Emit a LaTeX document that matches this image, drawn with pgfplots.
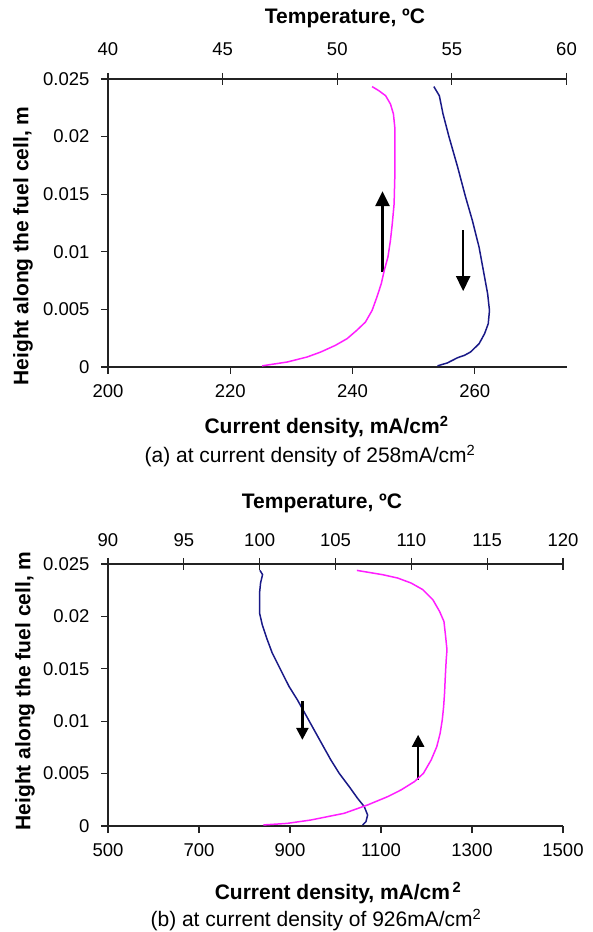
\documentclass[border=0pt]{standalone}
\usepackage{fontspec}
\setmainfont{Liberation Sans}
\usepackage{pgfplots}
\pgfplotsset{compat=1.18}
\usetikzlibrary{arrows.meta}
\definecolor{pinkc}{RGB}{255,30,255}
\definecolor{bluec}{RGB}{25,25,135}
\definecolor{axc}{RGB}{35,35,35}

\tikzset{
  arr/.style={black, line width=2.6pt, -{Triangle[width=14pt,length=15pt]}},
  arrs/.style={black, line width=2.4pt, -{Triangle[width=12pt,length=12pt]}}
}
\newcommand{\lblfont}{\fontsize{21}{25}\selectfont\bfseries}
\newcommand{\tkfont}{\fontsize{18.5}{22}\selectfont}
\pgfplotsset{
  base/.style={scale only axis, clip=false, anchor=south west,
    scaled x ticks=false, scaled y ticks=false,
    axis line style={axc, line width=1.2pt, -},
    tick style={axc, line width=1.2pt},
    ymin=0, ymax=0.025},
  botax/.style={base, axis x line*=bottom, axis y line*=left,
    xtick pos=bottom, ytick pos=left, xticklabel pos=bottom, yticklabel pos=left,
    tick align=outside, major tick length=7pt,
    ytick={0,0.005,0.01,0.015,0.02,0.025},
    yticklabels={0,0.005,0.01,0.015,0.02,0.025},
    xticklabel style={font=\tkfont, text=black, anchor=center, yshift=-17pt},
    yticklabel style={font=\tkfont, text=black, anchor=east, xshift=-8pt}},
  topax/.style={base, axis x line*=top, axis y line=none,
    xtick pos=top, xticklabel pos=top,
    ytick=\empty, tick align=center, major tick length=12pt,
    xticklabel style={font=\tkfont, text=black, anchor=center, yshift=24pt}},
  bl/.style={color=bluec, line width=1.5pt, no marks},
  pk/.style={color=pinkc, line width=1.5pt, no marks}
}

\begin{document}
\begin{tikzpicture}
\useasboundingbox (0,0) rectangle (592pt,932pt);

% ---------------- panel (a) ----------------
\begin{axis}[botax, at={(108pt,565pt)}, width=458.5pt, height=288pt,
  xmin=200, xmax=275, xtick={200,220,240,260}, xticklabels={200,220,240,260},
  xlabel={Current density, mA/cm\textsuperscript{2}},
  xlabel style={font=\lblfont, at={(axis description cs:0.4766,-0.2014)}, anchor=center, yshift=-2pt},
  ylabel={Height along the fuel cell, m},
  ylabel style={font=\lblfont, at={(axis description cs:-0.1854,0.42)}, anchor=center}]
\addplot[bl] coordinates {
(253.9,0.0001) (255.5,0.00035) (257.2,0.00081) (258.3,0.00101) (259.3,0.00130)
(260.7,0.00202) (261.6,0.00289) (262.2,0.00376) (262.4,0.00491) (262.1,0.00636)
(261.5,0.00809) (260.7,0.01040) (259.6,0.01272) (258.5,0.01474) (257.2,0.01734)
(255.8,0.01994) (254.8,0.02197) (254.2,0.02355) (253.3,0.02434)};
\draw[arr] (axis cs:244.9,0.00824) -- (axis cs:244.9,0.01526);
\draw[arr] (axis cs:258.1,0.01185) -- (axis cs:258.1,0.00659);
\node[font=\fontsize{21}{25}\selectfont, yshift=-3pt] at (axis description cs:0.4406,-0.2986)
  {(a) at current density of 258mA/cm\textsuperscript{2}};
\end{axis}
\begin{axis}[topax, at={(108pt,565pt)}, width=458.5pt, height=288pt,
  xmin=40, xmax=60, xtick={40,45,50,55,60}, xticklabels={40,45,50,55,60},
  xlabel={Temperature, ºC},
  xlabel style={font=\lblfont, at={(axis description cs:0.5169,1.2118)}, anchor=center}]
\addplot[pk] coordinates {
(46.72,0.0001) (47.81,0.00043) (48.69,0.00087) (49.28,0.0013) (49.92,0.00188)
(50.43,0.00246) (50.85,0.00318) (51.23,0.0039) (51.52,0.00491) (51.73,0.00607)
(51.92,0.00723) (52.05,0.00838) (52.21,0.00954) (52.32,0.01098) (52.40,0.01243)
(52.48,0.01416) (52.51,0.01647) (52.51,0.0185) (52.51,0.02081) (52.45,0.02197)
(52.32,0.02283) (52.11,0.02355) (51.81,0.02399) (51.52,0.02434)};
\end{axis}

% ---------------- panel (b) ----------------
\begin{axis}[botax, at={(108pt,106pt)}, width=455pt, height=262pt,
  xmin=500, xmax=1500, xtick={500,700,900,1100,1300,1500},
  xticklabels={500,700,900,1100,1300,1500},
  xlabel={Current density, mA/cm\textsuperscript{\,2}},
  xlabel style={font=\lblfont, at={(axis description cs:0.5055,-0.2443)}, anchor=center, yshift=-3pt},
  ylabel={Height along the fuel cell, m},
  ylabel style={font=\lblfont, at={(axis description cs:-0.1824,0.5153)}, anchor=center}]
\addplot[bl] coordinates {
(1059.6,0.0001) (1066.9,0.00041) (1070.6,0.00105) (1063.2,0.00185) (1048.5,0.00264)
(1030.1,0.00376) (1008.1,0.00503) (989.7,0.00631) (971.3,0.00774) (953.0,0.00917)
(934.6,0.01061) (916.2,0.01204) (897.8,0.01332) (879.4,0.01491) (861.0,0.0165)
(850.0,0.01778) (839.0,0.01921) (833.1,0.02032) (833.1,0.02224) (835.3,0.02319)
(839.7,0.02399) (833.8,0.0244)};
\draw[arrs] (axis cs:927.2,0.01188) -- (axis cs:927.2,0.00822);
\draw[arrs] (axis cs:1181.6,0.0044) -- (axis cs:1181.6,0.0087);
\node[font=\fontsize{21}{25}\selectfont, yshift=1pt] at (axis description cs:0.4571,-0.3626)
  {(b) at current density of 926mA/cm\textsuperscript{2}};
\end{axis}
\begin{axis}[topax, at={(108pt,106pt)}, width=455pt, height=262pt,
  xmin=90, xmax=120, xtick={90,95,100,105,110,115,120},
  xticklabels={90,95,100,105,110,115,120},
  xticklabel style={yshift=-6pt},
  xlabel={Temperature, ºC},
  xlabel style={font=\lblfont, at={(axis description cs:0.4703,1.2328)}, anchor=center}]
\addplot[pk] coordinates {
(100.24,0.0001) (101.82,0.00025) (103.37,0.00057) (105.57,0.00121) (107.12,0.00201)
(108.44,0.0028) (109.32,0.00344) (110.21,0.00424) (110.80,0.00503) (111.31,0.00631)
(111.68,0.00758) (111.90,0.00885) (112.04,0.01013) (112.13,0.0114) (112.19,0.01268)
(112.24,0.01427) (112.30,0.01586) (112.35,0.01682) (112.26,0.01809) (112.15,0.01952)
(111.86,0.02048) (111.42,0.02159) (110.76,0.02255) (109.99,0.02318) (109.10,0.02366)
(108.11,0.02398) (106.41,0.02439)};
\end{axis}
\end{tikzpicture}
\end{document}
